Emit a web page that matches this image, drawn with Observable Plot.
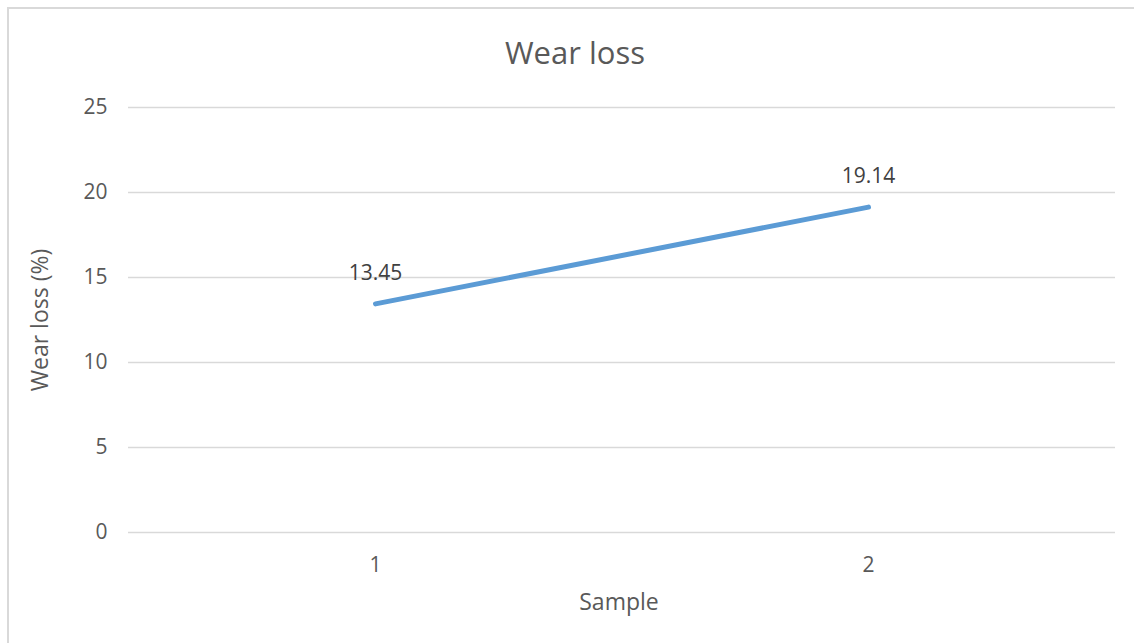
<!DOCTYPE html>
<html>
<head>
<meta charset="utf-8">
<script src="https://cdn.jsdelivr.net/npm/d3@7"></script>
<script src="https://cdn.jsdelivr.net/npm/@observablehq/plot@0.6"></script>
<style>
  html, body { margin: 0; padding: 0; background: #fff; }
  #wrap { position: relative; width: 1134px; height: 643px; overflow: hidden; font-family: "Open Sans", "Noto Sans", sans-serif; }
  #frame { position: absolute; left: 7px; top: 7px; width: 1200px; height: 700px; border-top: 2px solid #d9d9d9; border-left: 2px solid #d9d9d9; }
  #title { position: absolute; left: 0; width: 1150px; top: 53px; transform: translateY(-50%); text-align: center; font-size: 31px; line-height: 1.2; color: #595959; }
  #xlabel { position: absolute; left: 519px; width: 200px; top: 602px; transform: translateY(-50%); line-height: 1.2; text-align: center; font-size: 23px; color: #595959; }
  #ylabel { position: absolute; left: 40px; top: 320px; transform: translate(-50%, -50%) rotate(-90deg); line-height: 1.2; white-space: nowrap; font-size: 23px; color: #595959; }
  #chart { position: absolute; left: 0; top: 0; }
</style>
</head>
<body>
<div id="wrap">
  <div id="frame"></div>
  <div id="chart"></div>
  <div id="title">Wear loss</div>
  <div id="xlabel">Sample</div>
  <div id="ylabel">Wear loss (%)</div>
</div>
<script>
const samples = ["1", "2"];
const wearLoss = [13.45, 19.14];
const yTicks = [0, 5, 10, 15, 20, 25];

const data = samples.map((s, i) => ({sample: s, value: wearLoss[i]}));

const chart = Plot.plot({
  width: 1134,
  height: 643,
  marginLeft: 128,
  marginRight: 19,
  marginTop: 107,
  marginBottom: 111,
  style: {background: "transparent", fontFamily: "'Open Sans', 'Noto Sans', sans-serif", color: "#595959"},
  x: {type: "point", domain: samples, padding: 0.5},
  y: {domain: [0, 25]},
  marks: [
    Plot.gridY(yTicks, {stroke: "#d9d9d9", strokeOpacity: 1, strokeWidth: 1.5}),
    Plot.axisY(yTicks, {tickSize: 0, tickPadding: 21, fontSize: 21, fill: "#595959", label: null}),
    Plot.axisX(samples, {tickSize: 0, tickPadding: 25, fontSize: 21, fill: "#595959", label: null}),
    Plot.line(data, {x: "sample", y: "value", stroke: "#5B9BD5", strokeWidth: 5, strokeLinecap: "round"}),
    Plot.text(data, {x: "sample", y: "value", text: d => d.value.toFixed(2), dy: -31, fontSize: 21, fill: "#404040"})
  ]
});
document.getElementById("chart").appendChild(chart);
</script>
</body>
</html>
